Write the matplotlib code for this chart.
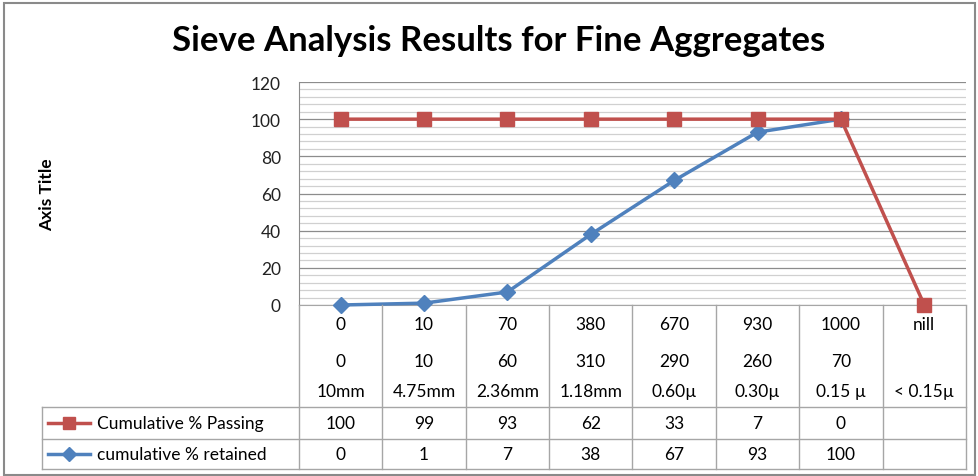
import matplotlib
matplotlib.use("Agg")
import matplotlib.pyplot as plt
from matplotlib.transforms import blended_transform_factory
from matplotlib.lines import Line2D
from matplotlib.patches import Rectangle

plt.rcParams['font.family'] = ['Lato', 'DejaVu Sans']

# ---- data ----
weights_cum = ["0", "10", "70", "380", "670", "930", "1000", "nill"]
weights_ret = ["0", "10", "60", "310", "290", "260", "70", ""]
sieve_sizes = ["10mm", "4.75mm", "2.36mm", "1.18mm", "0.60\u00b5", "0.30\u00b5", "0.15 \u00b5", "< 0.15\u00b5"]
passing_plotted = [100, 100, 100, 100, 100, 100, 100, 0]
passing_table = ["100", "99", "93", "62", "33", "7", "0", ""]
retained = [0, 1, 7, 38, 67, 93, 100]
retained_table = ["0", "1", "7", "38", "67", "93", "100", ""]
series_names = ["Cumulative % Passing", "cumulative % retained"]

RED = "#C0504D"
BLUE = "#4F81BD"
GRID_MAJ = "#8c8c8c"
GRID_MIN = "#d0d0d0"
TBL = "#a6a6a6"

W, H = 979, 477
fig = plt.figure(figsize=(W / 100, H / 100), dpi=100)

def fx(px):
    return px / W

def fy(py):
    return 1 - py / H

left, right, top, bottom = 299, 966, 83, 306
ax = fig.add_axes([fx(left), fy(bottom), fx(right) - fx(left), fy(top) - fy(bottom)])
n = len(sieve_sizes)
xs = list(range(1, n + 1))
ax.set_xlim(0.5, n + 0.5)
ax.set_ylim(0, 120)
ax.set_yticks(range(0, 121, 20))
ax.set_yticks(range(0, 121, 4), minor=True)
ax.tick_params(axis='y', which='both', length=0, labelsize=12.5, pad=13, colors='#222222')
ax.tick_params(axis='x', which='both', length=0, labelbottom=False)
ax.grid(True, which='minor', axis='y', color=GRID_MIN, lw=0.9)
ax.grid(True, which='major', axis='y', color=GRID_MAJ, lw=0.9)
ax.set_axisbelow(True)
for s in ['top', 'right']:
    ax.spines[s].set_visible(False)
ax.spines['left'].set_color(GRID_MAJ)
ax.spines['bottom'].set_color(TBL)

ax.plot(xs[:len(retained)], retained, color=BLUE, lw=2.5, marker='D', ms=8, zorder=3, clip_on=False)
ax.plot(xs, passing_plotted, color=RED, lw=2.5, marker='s', ms=10, zorder=4, clip_on=False)

# title and axis title
fig.text(0.509, fy(41), "Sieve Analysis Results for Fine Aggregates", ha='center', va='center',
         fontsize=25, fontweight='bold')
fig.text(fx(47), fy(195), "Axis Title", rotation=90, ha='center', va='center',
         fontsize=12.5, fontweight='bold')

# data table
bt = blended_transform_factory(ax.transData, fig.transFigure)
fsz = 12.5
for i, x in enumerate(xs):
    fig.text(x, fy(325), weights_cum[i], transform=bt, ha='center', va='center', fontsize=fsz)
    fig.text(x, fy(362), weights_ret[i], transform=bt, ha='center', va='center', fontsize=fsz)
    fig.text(x, fy(392), sieve_sizes[i], transform=bt, ha='center', va='center', fontsize=fsz)
    fig.text(x, fy(424), passing_table[i], transform=bt, ha='center', va='center', fontsize=fsz)
    fig.text(x, fy(455), retained_table[i], transform=bt, ha='center', va='center', fontsize=fsz)

for k in range(n + 1):
    xb = 0.5 + k
    fig.add_artist(Line2D([xb, xb], [fy(470), fy(306)], transform=bt, color=TBL, lw=1))
for py in (408, 440, 470):
    fig.add_artist(Line2D([fx(42), fx(right)], [fy(py), fy(py)], color=TBL, lw=1))
fig.add_artist(Line2D([fx(42), fx(42)], [fy(408), fy(470)], color=TBL, lw=1))

# legend keys
fig.add_artist(Line2D([fx(48), fx(90)], [fy(424), fy(424)], color=RED, lw=2.5))
fig.add_artist(Line2D([fx(69)], [fy(424)], color=RED, marker='s', ms=9, lw=0))
fig.add_artist(Line2D([fx(48), fx(90)], [fy(455), fy(455)], color=BLUE, lw=2.5))
fig.add_artist(Line2D([fx(69)], [fy(455)], color=BLUE, marker='D', ms=7, lw=0))
fig.text(fx(97), fy(424), series_names[0], ha='left', va='center', fontsize=fsz)
fig.text(fx(97), fy(455), series_names[1], ha='left', va='center', fontsize=fsz)

# outer border
fig.add_artist(Rectangle((fx(4), fy(476)), fx(975) - fx(4), fy(4) - fy(476),
                         fill=False, edgecolor='#8a8a8a', lw=1.5))

fig.savefig("out.png", dpi=100)
